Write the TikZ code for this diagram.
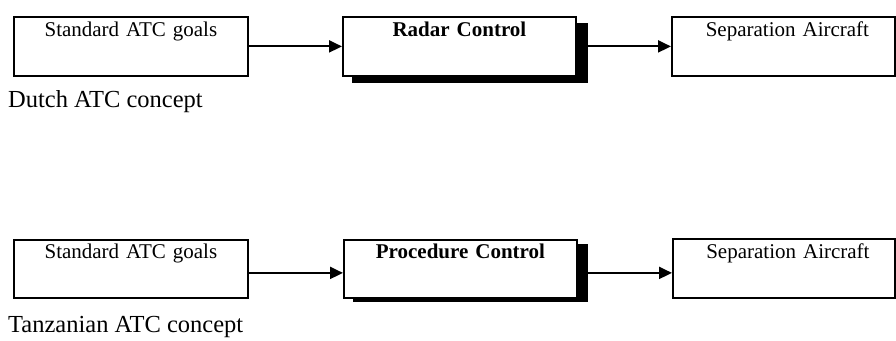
\documentclass[tikz,border=0pt]{standalone}
\usepackage{fontspec}
\setmainfont{Liberation Serif}
\usetikzlibrary{arrows.meta,calc}
\begin{document}
\begin{tikzpicture}[x=1bp,y=-1bp,
  box/.style={draw, line width=1.8bp, fill=white, inner sep=0pt, anchor=north west,
    align=center, text height=20bp, text depth=39bp,
    font=\fontsize{21bp}{22bp}\selectfont},
  shade/.style={fill=black, inner sep=0pt, anchor=north west},
  caption/.style={anchor=base west, inner sep=0pt, font=\fontsize{24.5bp}{26bp}\selectfont},
  flow/.style={line width=2bp, -{Triangle[length=13bp,width=12bp]}}]
\useasboundingbox (0,0) rectangle (896,340);

% Dutch concept
\node[shade, minimum width=236bp, minimum height=60bp] (s2) at (352,23) {};
\node[box, text width=234bp] (a1) at (13,16) {Standard ATC goals};
\node[box, text width=233bp] (a2) at (342,16) {\textbf{Radar Control}};
\node[box, text width=223bp] (a3) at (671,16) {\hspace*{8bp}Separation Aircraft};
\node[caption] (c1) at (8,107) {Dutch ATC concept};
\draw[flow] (a1.east) -- (a2.west);
\draw[flow] (a2.east -| s2.east) -- (a3.west |- a2.east);

% Tanzanian concept
\node[shade, minimum width=235bp, minimum height=58bp] (t2) at (353,244) {};
\node[box, text width=234bp, text height=19bp] (b1) at (13,239) {Standard ATC goals};
\node[box, text width=233bp, text height=19bp] (b2) at (343,239) {\textbf{Procedure Control}};
\node[box, text width=222bp, text height=20bp] (b3) at (672,238) {\hspace*{8bp}Separation Aircraft};
\node[caption] (c2) at (8,332) {Tanzanian ATC concept};
\draw[flow] ([yshift=-4bp]b1.east) -- ([yshift=-4bp]b2.west);
\draw[flow] ([yshift=-4bp]b2.east -| t2.east) -- ([yshift=-4bp]b3.west |- b2.east);
\end{tikzpicture}
\end{document}
